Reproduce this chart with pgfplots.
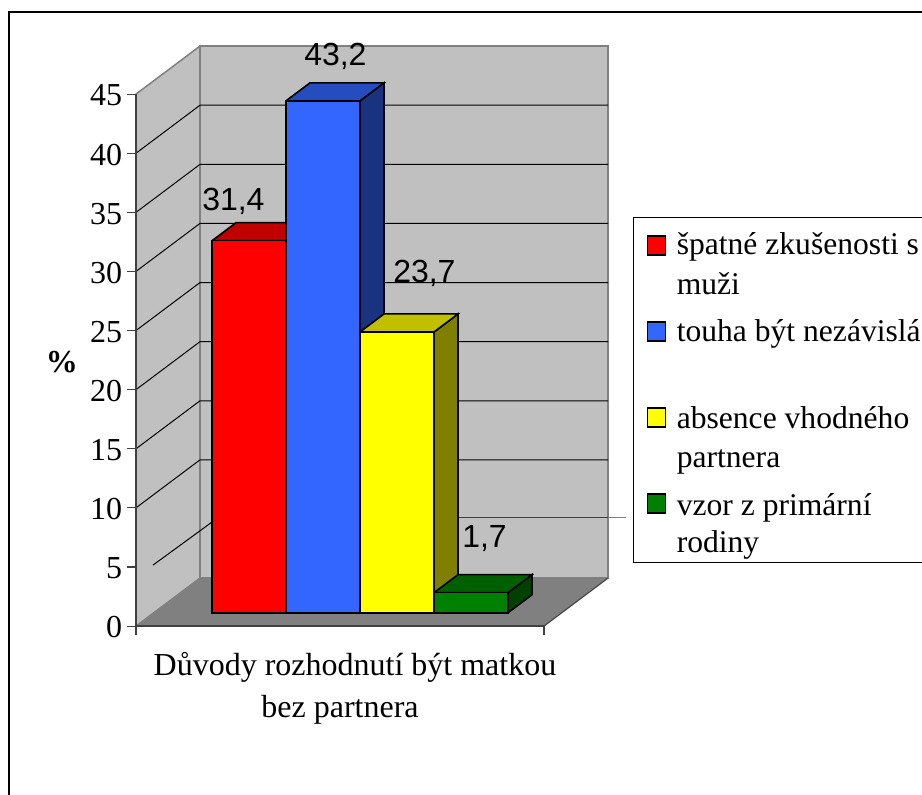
\documentclass[border=0pt]{standalone}
\usepackage{fontspec}
\setmainfont{Liberation Serif}
\newfontfamily\arialf{Liberation Sans}
\usepackage{pgfplots}
\pgfplotsset{compat=1.18}

\definecolor{wall}{HTML}{C0C0C0}
\definecolor{floorc}{HTML}{808080}
\definecolor{axisc}{HTML}{404040}
\definecolor{barred}{HTML}{FF0000}
\definecolor{redtop}{HTML}{C00000}
\definecolor{barblue}{HTML}{3366FF}
\definecolor{bluetop}{HTML}{264DBF}
\definecolor{blueside}{HTML}{1A3380}
\definecolor{baryellow}{HTML}{FFFF00}
\definecolor{yeltop}{HTML}{C0C000}
\definecolor{yelside}{HTML}{808000}
\definecolor{bargreen}{HTML}{008000}
\definecolor{greentop}{HTML}{006000}
\definecolor{greenside}{HTML}{004000}

\newcommand{\lbl}{\fontsize{24}{24}\selectfont}
\newcommand{\leg}{\fontsize{23.7}{24}\selectfont}

\begin{document}
\begin{tikzpicture}
% walls, floor, grid, legend, titles: x is in picture pixels, y in %
\begin{axis}[
    name=main,
    at={(0pt,0pt)},
    anchor=south west,
    scale only axis,
    width=306pt,
    height=399pt,
    xmin=136, xmax=544,
    ymin=0, ymax=45,
    clip=false,
    axis on top=true,
    axis x line=bottom,
    axis y line=left,
    axis line style={-, axisc, line width=1pt},
    tick style={axisc, line width=0.8pt},
    tick align=outside,
    major tick length=6.75pt,
    xtick={136,544},
    xticklabel=\empty,
    ytick={0,5,...,45},
    /pgf/number format/assume math mode=true,
    yticklabel style={font=\lbl, inner sep=0pt, xshift=-3.5pt, yshift=-1pt},
]
\addplot[fill=wall, draw=floorc, line width=1.1pt] coordinates {(136,0) (200,4.06) (200,49.06) (136,45) (136,0)};
\addplot[fill=wall, draw=floorc, line width=1.1pt] coordinates {(200,4.06) (608,4.06) (608,49.06) (200,49.06) (200,4.06)};
\addplot[fill=floorc, draw=none] coordinates {(136,0) (544,0) (608,4.06) (200,4.06) (136,0)};
\addplot[axisc, line width=0.8pt] coordinates {(544,0) (608,4.06)};
% gridlines
\addplot[black, line width=0.75pt] coordinates {(136,40) (200,44.06) (608,44.06)};
\addplot[black, line width=0.75pt] coordinates {(136,35) (200,39.06) (608,39.06)};
\addplot[black, line width=0.75pt] coordinates {(136,30) (200,34.06) (608,34.06)};
\addplot[black, line width=0.75pt] coordinates {(136,25) (200,29.06) (608,29.06)};
\addplot[black, line width=0.75pt] coordinates {(136,20) (200,24.06) (608,24.06)};
\addplot[black, line width=0.75pt] coordinates {(136,15) (200,19.06) (608,19.06)};
\addplot[black, line width=0.75pt] coordinates {(136,10) (200,14.06) (608,14.06)};
\addplot[black, line width=0.75pt] coordinates {(153,5.16) (212,8.8)};
\addplot[axisc, line width=0.75pt] coordinates {(212,9.2) (608,9.2)};
\addplot[floorc, line width=0.9pt] coordinates {(608,9.2) (626,9.2)};

% frame
\draw[black, line width=1.5pt] (axis cs:9.3,-15) -- (axis cs:9.3,51.95) -- (axis cs:935,51.95);

% legend
\draw[black, line width=0.75pt, fill=white] (axis cs:633.5,34.52) rectangle (axis cs:935,5.41);
\draw[black, line width=1pt, fill=barred] (axis cs:647.5,32.99) rectangle (axis cs:665.5,31.39);
\draw[black, line width=1pt, fill=barblue] (axis cs:647.5,25.72) rectangle (axis cs:665.5,24.11);
\draw[black, line width=1pt, fill=baryellow] (axis cs:647.5,18.44) rectangle (axis cs:665.5,16.84);
\draw[black, line width=1pt, fill=bargreen] (axis cs:647.5,11.17) rectangle (axis cs:665.5,9.56);
\node[anchor=base west, inner sep=0pt, font=\leg] at (axis cs:676.5,31.39) {špatné zkušenosti s};
\node[anchor=base west, inner sep=0pt, font=\leg] at (axis cs:676.5,28.09) {muži};
\node[anchor=base west, inner sep=0pt, font=\leg] at (axis cs:676.5,24.11) {touha být nezávislá};
\node[anchor=base west, inner sep=0pt, font=\leg] at (axis cs:676.5,16.75) {absence vhodného};
\node[anchor=base west, inner sep=0pt, font=\leg] at (axis cs:676.5,13.45) {partnera};
\node[anchor=base west, inner sep=0pt, font=\leg] at (axis cs:676.5,9.39) {vzor z primární};
\node[anchor=base west, inner sep=0pt, font=\leg] at (axis cs:676.5,6.26) {rodiny};

% titles
\node[anchor=base, inner sep=0pt, font=\lbl] at (axis cs:355,-4.15) {Důvody rozhodnutí být matkou};
\node[anchor=base, inner sep=0pt, font=\lbl] at (axis cs:340,-7.72) {bez partnera};
\node[anchor=base, inner sep=0pt, font=\lbl\bfseries] at (axis cs:62,21.49) {\%};

\coordinate (pa) at (axis cs:0,-14.21);
\coordinate (pb) at (axis cs:922,52.96);
\end{axis}

% bars: same x, raised to the bars' own floor, y in %
\begin{axis}[
    at={(0pt,9.975pt)},
    anchor=south west,
    scale only axis,
    width=306pt,
    height=399.94pt,
    xmin=136, xmax=544,
    ymin=0, ymax=45,
    clip=false,
    hide axis,
]
\pgfplotsset{every axis plot/.append style={line width=1.2pt, line join=miter}}
% red
\addplot[fill=redtop, draw=black] coordinates {(212,31.4) (286,31.4) (310,32.92) (236,32.92) (212,31.4)};
\addplot[ybar, bar width=74, bar shift=0pt, fill=barred, draw=black] coordinates {(249,31.4)};
% blue
\addplot[fill=blueside, draw=black] coordinates {(360,0) (384,1.52) (384,44.72) (360,43.2) (360,0)};
\addplot[fill=bluetop, draw=black] coordinates {(286,43.2) (360,43.2) (384,44.72) (310,44.72) (286,43.2)};
\addplot[ybar, bar width=74, bar shift=0pt, fill=barblue, draw=black] coordinates {(323,43.2)};
% yellow
\addplot[fill=yelside, draw=black] coordinates {(434,0) (458,1.52) (458,25.22) (434,23.7) (434,0)};
\addplot[fill=yeltop, draw=black] coordinates {(360,23.7) (434,23.7) (458,25.22) (384,25.22) (360,23.7)};
\addplot[ybar, bar width=74, bar shift=0pt, fill=baryellow, draw=black] coordinates {(397,23.7)};
% green
\addplot[fill=greenside, draw=black] coordinates {(508,0) (532,1.52) (532,3.22) (508,1.7) (508,0)};
\addplot[fill=greentop, draw=black] coordinates {(434,1.7) (508,1.7) (532,3.22) (458,3.22) (434,1.7)};
\addplot[ybar, bar width=74, bar shift=0pt, fill=bargreen, draw=black] coordinates {(471,1.7)};

% value labels
\node[anchor=base west, inner sep=0pt, font=\arialf\lbl] at (axis cs:202,33.98) {31,4};
\node[anchor=base west, inner sep=0pt, font=\arialf\lbl] at (axis cs:304,46.22) {43,2};
\node[anchor=base west, inner sep=0pt, font=\arialf\lbl] at (axis cs:393,27.91) {23,7};
\node[anchor=base west, inner sep=0pt, font=\arialf\lbl] at (axis cs:462,5.55) {1,7};
\end{axis}

\pgfresetboundingbox
\path[use as bounding box] (pa) rectangle (pb);
\end{tikzpicture}
\end{document}
